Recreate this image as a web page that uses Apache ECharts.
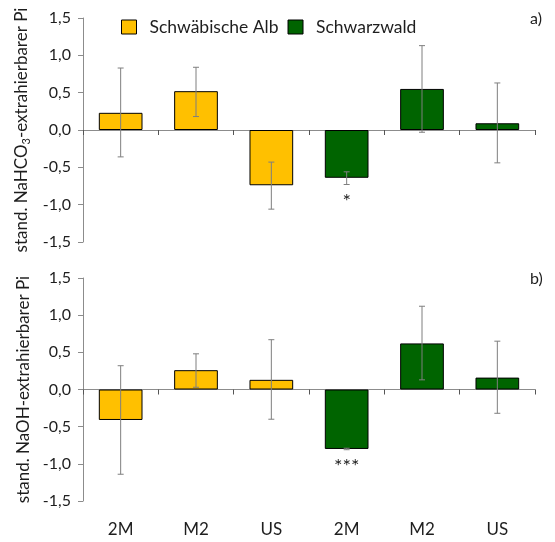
<!DOCTYPE html>
<html>
<head>
<meta charset="utf-8">
<script src="https://cdn.jsdelivr.net/npm/echarts@6/dist/echarts.min.js"></script>
<style>html,body{margin:0;padding:0;background:#fff}#c{width:555px;height:542px}</style>
</head>
<body>
<div id="c"></div>
<script>
// ---- data ----
const categories = ['2M', 'M2', 'US', '2M', 'M2', 'US'];
const groupNames = ['Schwäbische Alb', 'Schwarzwald'];
const categoryGroup = [0, 0, 0, 1, 1, 1];
const yTickMin = -1.5, yTickMax = 1.5, yTickStep = 0.5;

const naHCO3Values  = [0.23, 0.52, -0.74, -0.64, 0.55, 0.09];
const naHCO3ErrLow  = [-0.36, 0.18, -1.06, -0.73, -0.03, -0.44];
const naHCO3ErrHigh = [0.83, 0.84, -0.43, -0.56, 1.13, 0.63];
const naHCO3Sig     = ['', '', '', '*', '', ''];

const naOHValues  = [-0.41, 0.26, 0.13, -0.80, 0.62, 0.16];
const naOHErrLow  = [-1.14, 0.03, -0.40, -0.81, 0.13, -0.32];
const naOHErrHigh = [0.32, 0.48, 0.67, -0.79, 1.12, 0.65];
const naOHSig     = ['', '', '', '***', '', ''];

const panelLetters = ['a)', 'b)'];
// ---- style ----
const FONT = 'Lato';
const colors = ['#FFC000', '#006400'];
const axisGray = '#8c8c8c';
const textColor = '#1e1e1e';

const chart = echarts.init(document.getElementById('c'), null, {renderer: 'canvas'});

function splitByGroup(values, g) {
  return values.map((v, i) => categoryGroup[i] === g ? v : null);
}

function yAxisDef(gridIndex, nameParts) {
  return {
    type: 'value', gridIndex, min: yTickMin, max: yTickMax, interval: yTickStep,
    axisLine: {show: true, lineStyle: {color: axisGray, width: 1}},
    axisTick: {show: true, length: 5, lineStyle: {color: axisGray}},
    splitLine: {show: false},
    axisLabel: {margin: 12, color: textColor, fontFamily: FONT, fontSize: 16,
      formatter: v => v.toFixed(1).replace('.', ',')},
    name: nameParts, nameLocation: 'middle', nameGap: 48,
    nameTextStyle: {color: textColor, fontFamily: FONT, fontSize: 17,
      rich: {
        b: {fontFamily: FONT, fontSize: 17, color: textColor, lineHeight: 20, verticalAlign: 'middle'},
        s: {fontFamily: FONT, fontSize: 11, color: textColor, lineHeight: 11, verticalAlign: 'bottom'}
      }}
  };
}

function xAxisZero(gridIndex) {
  return {
    type: 'category', gridIndex, data: categories,
    axisLine: {show: true, onZero: true, lineStyle: {color: axisGray, width: 1}},
    axisTick: {show: true, length: 5, alignWithLabel: false, lineStyle: {color: '#555'}},
    axisLabel: {show: false}
  };
}

function errorSeries(xi, yi, lows, highs, values, sig) {
  return {
    type: 'custom', xAxisIndex: xi, yAxisIndex: yi, z: 10,
    data: categories.map((c, i) => [i, lows[i], highs[i], values[i]]),
    renderItem: function (params, api) {
      const i = api.value(0);
      const top = api.coord([i, api.value(2)]);
      const bot = api.coord([i, api.value(1)]);
      const cap = 3;
      const children = [
        {type: 'line', shape: {x1: top[0], y1: top[1], x2: bot[0], y2: bot[1]}, style: {stroke: '#7f7f7f', lineWidth: 1}},
        {type: 'line', shape: {x1: top[0] - cap, y1: top[1], x2: top[0] + cap, y2: top[1]}, style: {stroke: '#7f7f7f', lineWidth: 1}},
        {type: 'line', shape: {x1: bot[0] - cap, y1: bot[1], x2: bot[0] + cap, y2: bot[1]}, style: {stroke: '#7f7f7f', lineWidth: 1}}
      ];
      const s = sig[params.dataIndex];
      if (s) {
        const low = Math.min(api.value(1), api.value(3));
        const p = api.coord([i, low]);
        children.push({type: 'text', x: p[0], y: p[1] + 7,
          style: {text: s, fill: textColor, font: '20px ' + FONT, textAlign: 'center', textVerticalAlign: 'top'}});
      }
      return {type: 'group', children};
    }
  };
}

function barSeries(name, g, xi, yi, values) {
  return {
    name, type: 'bar', xAxisIndex: xi, yAxisIndex: yi,
    data: splitByGroup(values, g), barWidth: '58%', barGap: '-100%',
    itemStyle: {color: colors[g], borderColor: '#000', borderWidth: 1}
  };
}

const option = {
  animation: false,
  backgroundColor: '#fff',
  legend: {
    left: 116, top: 13, itemWidth: 15, itemHeight: 14, itemGap: 9,
    icon: 'rect',
    data: groupNames,
    itemStyle: {borderColor: '#000', borderWidth: 1},
    textStyle: {fontFamily: FONT, fontSize: 17.5, color: textColor, padding: [0, 0, 0, 8]}
  },
  graphic: [
    {type: 'text', left: 530, top: 11, style: {text: panelLetters[0], font: '16px ' + FONT, fill: textColor}},
    {type: 'text', left: 530, top: 271, style: {text: panelLetters[1], font: '16px ' + FONT, fill: textColor}}
  ],
  grid: [
    {left: 83, top: 18, width: 452, height: 224},
    {left: 83, top: 278, width: 452, height: 223}
  ],
  xAxis: [
    xAxisZero(0),
    xAxisZero(1),
    {type: 'category', gridIndex: 1, data: categories, position: 'bottom',
      axisLine: {show: false, onZero: false}, axisTick: {show: false},
      axisLabel: {show: true, margin: 20, color: textColor, fontFamily: FONT, fontSize: 17}}
  ],
  yAxis: [
    yAxisDef(0, '{b|stand. NaHCO}{s|3}{b|-extrahierbarer Pi}'),
    yAxisDef(1, '{b|stand. NaOH-extrahierbarer Pi}')
  ],
  series: [
    barSeries(groupNames[0], 0, 0, 0, naHCO3Values),
    barSeries(groupNames[1], 1, 0, 0, naHCO3Values),
    errorSeries(0, 0, naHCO3ErrLow, naHCO3ErrHigh, naHCO3Values, naHCO3Sig),
    barSeries(groupNames[0], 0, 1, 1, naOHValues),
    barSeries(groupNames[1], 1, 1, 1, naOHValues),
    errorSeries(1, 1, naOHErrLow, naOHErrHigh, naOHValues, naOHSig)
  ]
};
chart.setOption(option);
</script>
</body>
</html>
